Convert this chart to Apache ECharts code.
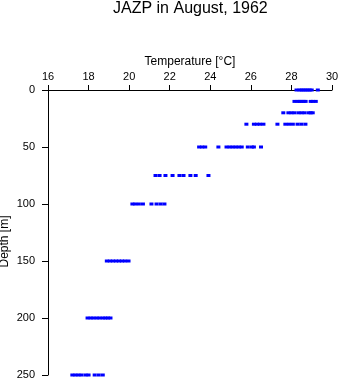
<!DOCTYPE html>
<html>
<head>
<meta charset="utf-8">
<script src="https://cdn.jsdelivr.net/npm/echarts@6/dist/echarts.min.js"></script>
<style>html,body{margin:0;padding:0;background:#fff}#c{width:341px;height:384px}</style>
</head>
<body>
<div id="c"></div>
<script>
var depths = [0, 10, 20, 30, 50, 75, 100, 150, 200, 250];
var t0 = [28.25, 28.4, 28.5, 28.6, 28.7, 28.8, 28.9, 29.0, 29.3];
var t10 = [28.15, 28.3, 28.4, 28.5, 28.6, 28.7, 28.95, 29.05, 29.2];
var t20 = [27.6, 27.85, 28.0, 28.15, 28.35, 28.5, 28.65, 28.85, 28.95, 29.05];
var t30 = [25.78, 26.15, 26.3, 26.45, 26.62, 27.31, 27.7, 27.88, 28.07, 28.3, 28.49, 28.69];
var t50 = [23.45, 23.6, 23.75, 24.4, 24.8, 24.95, 25.1, 25.25, 25.4, 25.55, 25.85, 26.05, 26.15, 26.5];
var t75 = [21.3, 21.5, 21.79, 22.14, 22.48, 22.68, 23.02, 23.28, 23.91];
var t100 = [20.16, 20.3, 20.48, 20.68, 21.1, 21.35, 21.55, 21.74];
var t150 = [18.9, 19.05, 19.2, 19.35, 19.5, 19.65, 19.8, 19.97];
var t200 = [17.95, 18.1, 18.24, 18.4, 18.54, 18.7, 18.83, 18.95, 19.08];
var t250 = [17.2, 17.35, 17.5, 17.65, 17.85, 18.0, 18.3, 18.5, 18.7];
var tempsByDepth = [t0, t10, t20, t30, t50, t75, t100, t150, t200, t250];
var xTicks = [16, 18, 20, 22, 24, 26, 28, 30];
var yTicks = [0, 50, 100, 150, 200, 250];

var data = [];
depths.forEach(function (d, i) {
  tempsByDepth[i].forEach(function (t) { data.push([t, d]); });
});

var font = 'Liberation Sans, Arial, Helvetica, sans-serif';
var chart = echarts.init(document.getElementById('c'), null, {renderer: 'canvas'});
chart.setOption({
  animation: false,
  backgroundColor: '#fff',
  title: {
    text: 'JAZP in August, 1962',
    left: 113, top: 1, padding: 0,
    textStyle: {fontFamily: font, fontSize: 16, fontWeight: 'normal', color: '#000'}
  },
  grid: {left: 48, top: 90, right: 9, bottom: 9, containLabel: false, outerBoundsMode: 'none'},
  xAxis: {
    type: 'value', position: 'top',
    min: xTicks[0], max: xTicks[xTicks.length - 1], interval: 2,
    name: 'Temperature [°C]', nameLocation: 'middle', nameGap: 22, nameMoveOverlap: false,
    nameTextStyle: {fontFamily: font, fontSize: 12, color: '#000'},
    axisLine: {show: true, onZero: false, lineStyle: {color: '#000', width: 1}},
    axisTick: {show: true, length: 5, lineStyle: {color: '#000'}},
    axisLabel: {fontFamily: font, fontSize: 11, color: '#000', margin: 8},
    splitLine: {show: false}
  },
  yAxis: {
    type: 'value', inverse: true,
    min: yTicks[0], max: yTicks[yTicks.length - 1], interval: 50,
    name: 'Depth [m]', nameLocation: 'middle', nameGap: 37, nameMoveOverlap: false,
    nameTextStyle: {fontFamily: font, fontSize: 12, color: '#000', padding: [0, 18, 0, 0]},
    axisLine: {show: true, onZero: false, lineStyle: {color: '#000', width: 1}},
    axisTick: {show: true, length: 6, lineStyle: {color: '#000'}},
    axisLabel: {fontFamily: font, fontSize: 11, color: '#000', margin: 13},
    splitLine: {show: false}
  },
  series: [{
    type: 'scatter',
    data: data,
    symbol: 'rect',
    symbolSize: [4, 3],
    itemStyle: {color: '#0000ff', opacity: 1},
    emphasis: {disabled: true}
  }]
});
</script>
</body>
</html>
